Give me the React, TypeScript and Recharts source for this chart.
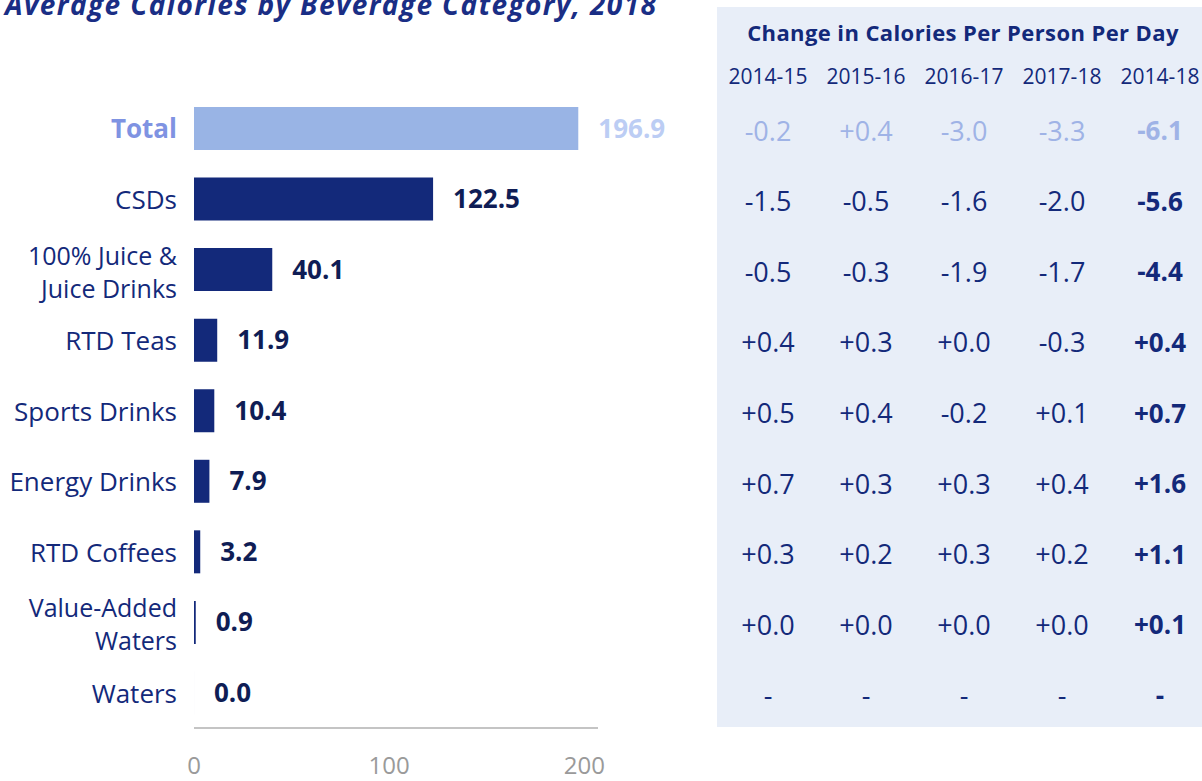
import { Bar, BarChart, Cell, LabelList, XAxis, YAxis } from "recharts";

const categories = [
    'Total',
    'CSDs',
    '100% Juice &\nJuice Drinks',
    'RTD Teas',
    'Sports Drinks',
    'Energy Drinks',
    'RTD Coffees',
    'Value-Added\nWaters',
    'Waters',
];
const calories = [196.9, 122.5, 40.1, 11.9, 10.4, 7.9, 3.2, 0.9, 0.0];
const xTicks = [0, 100, 200];

const periods = ['2014-15', '2015-16', '2016-17', '2017-18', '2014-18'];
const change1415 = [-0.2, -1.5, -0.5, 0.4, 0.5, 0.7, 0.3, 0.0, null];
const change1516 = [0.4, -0.5, -0.3, 0.3, 0.4, 0.3, 0.2, 0.0, null];
const change1617 = [-3.0, -1.6, -1.9, 0.0, -0.2, 0.3, 0.3, 0.0, null];
const change1718 = [-3.3, -2.0, -1.7, -0.3, 0.1, 0.4, 0.2, 0.0, null];
const change1418 = [-6.1, -5.6, -4.4, 0.4, 0.7, 1.6, 1.1, 0.1, null];
const changeCols = [change1415, change1516, change1617, change1718, change1418];

const FONT = '"Open Sans", sans-serif';
const NAVY = '#13297a';
const NAVY_DARK = '#0f1d55';
const TOTAL_BAR = '#99b4e5';
const TOTAL_LABEL = '#7f93e2';
const TOTAL_VALUE = '#bccdf4';
const TOTAL_TABLE = '#9fb3e6';
const COL_X = [768, 866, 964, 1062, 1160];

const data = categories.map((name, i) => ({ name, value: calories[i] }));

const fmt = (v: number | null) => (v === null ? '-' : (v >= 0 ? '+' : '-') + Math.abs(v).toFixed(1));

function CategoryTick({ y, payload, index }: any) {
    const lines = String(payload.value).split('\n');
    const isTotal = index === 0;
    return (
        <g>
            <text
                x={177}
                y={y}
                textAnchor="end"
                fontFamily={FONT}
                fontSize={lines.length > 1 ? 25 : 26}
                fontWeight={isTotal ? 700 : 400}
                fill={isTotal ? TOTAL_LABEL : NAVY}
            >
                {lines.map((line, i) => (
                    <tspan key={i} x={177} y={y + (lines.length > 1 ? 3 + (i - 0.5) * 33 : 1)} dy="0.35em">
                        {line}
                    </tspan>
                ))}
            </text>
            {changeCols.map((col, c) => (
                <text
                    key={c}
                    x={COL_X[c]}
                    y={y + 3}
                    dy="0.35em"
                    textAnchor="middle"
                    fontFamily={FONT}
                    fontSize={c === 4 ? 26 : 27}
                    fontWeight={c === 4 ? 700 : 400}
                    fill={isTotal ? TOTAL_TABLE : NAVY}
                >
                    {fmt(col[index])}
                </text>
            ))}
        </g>
    );
}

function ValueLabel({ x, y, width, height, value, index }: any) {
    return (
        <text
            x={x + width + 20}
            y={y + height / 2}
            dy="0.35em"
            fontFamily={FONT}
            fontSize={26}
            fontWeight={700}
            fill={index === 0 ? TOTAL_VALUE : NAVY_DARK}
        >
            {Number(value).toFixed(1)}
        </text>
    );
}

export default function App() {
    return (
        <div style={{ position: 'absolute', left: 0, top: 0, width: 1202, height: 781, background: '#fff', overflow: 'hidden' }}>
            <div style={{ position: 'absolute', left: 717, top: 7, width: 485, height: 720, background: '#e8eef8' }} />
            <div style={{
                position: 'absolute', left: 5, top: -15, fontFamily: FONT, fontSize: 28, fontWeight: 700,
                fontStyle: 'italic', color: '#1a2e85', whiteSpace: 'nowrap', letterSpacing: 1.4,
            }}>
                Average Calories by Beverage Category, 2018
            </div>
            <div style={{
                position: 'absolute', left: 717, top: 17, width: 492, textAlign: 'center', fontFamily: FONT,
                fontSize: 22, fontWeight: 700, color: NAVY, whiteSpace: 'nowrap', letterSpacing: 0.4,
            }}>
                Change in Calories Per Person Per Day
            </div>
            {periods.map((p, i) => (
                <div key={p} style={{
                    position: 'absolute', left: COL_X[i] - 50, top: 62, width: 100, textAlign: 'center',
                    fontFamily: FONT, fontSize: 21, color: NAVY,
                }}>
                    {p}
                </div>
            ))}
            <BarChart
                width={1202}
                height={781}
                data={data}
                layout="vertical"
                margin={{ top: 93, right: 604, bottom: 0, left: 0 }}
                barCategoryGap={14}
                style={{ position: 'absolute', left: 0, top: 0 }}
            >
                <XAxis
                    type="number"
                    domain={[0, 207]}
                    ticks={xTicks}
                    height={53}
                    axisLine={{ stroke: '#c4c4c4', strokeWidth: 2 }}
                    tickLine={false}
                    tick={{ fontFamily: FONT, fontSize: 24, fill: '#9a9a9a' }}
                    tickMargin={23}
                />
                <YAxis
                    type="category"
                    dataKey="name"
                    width={194}
                    axisLine={false}
                    tickLine={false}
                    tick={<CategoryTick />}
                    interval={0}
                />
                <Bar dataKey="value" isAnimationActive={false} minPointSize={0.01}>
                    {data.map((_, i) => (
                        <Cell key={i} fill={i === 0 ? TOTAL_BAR : NAVY} />
                    ))}
                    <LabelList dataKey="value" content={<ValueLabel />} />
                </Bar>
            </BarChart>
        </div>
    );
}
